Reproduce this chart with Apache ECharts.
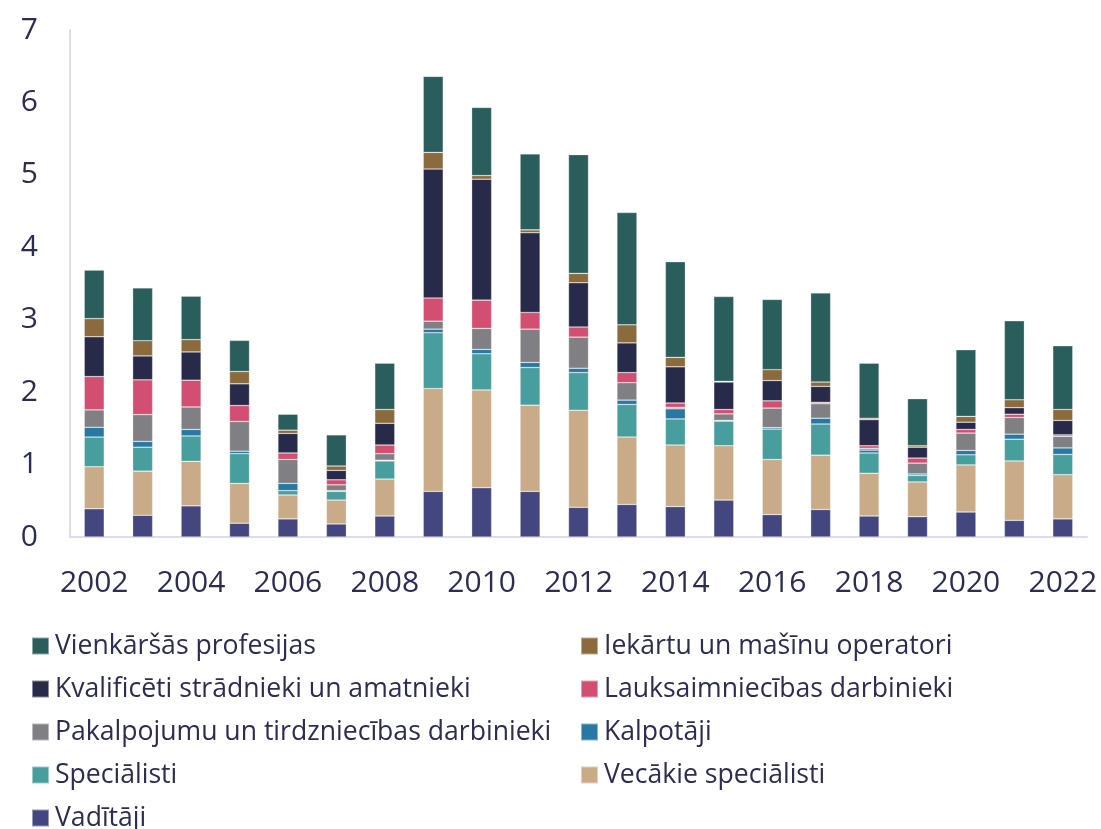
<!DOCTYPE html>
<html>
<head>
<meta charset="utf-8">
<title>Profesiju grupas</title>
<script src="https://cdn.jsdelivr.net/npm/echarts@6/dist/echarts.min.js"></script>
<style>
  html, body { margin: 0; padding: 0; background: #fff; }
  #chart { width: 1101px; height: 829px; }
</style>
</head>
<body>
<div id="chart"></div>
<script>
  // categories
  var years = ['2002', '2003', '2004', '2005', '2006', '2007', '2008', '2009', '2010', '2011', '2012',
    '2013', '2014', '2015', '2016', '2017', '2018', '2019', '2020', '2021', '2022']
  var yTicks = [0, 1, 2, 3, 4, 5, 6, 7]

  // series values, bottom to top of each stack
  var vaditaji = [0.39, 0.30, 0.43, 0.19, 0.25, 0.18, 0.29, 0.63, 0.68, 0.63, 0.41, 0.45, 0.42, 0.51, 0.31, 0.38, 0.29, 0.28, 0.345, 0.23, 0.25]
  var vecakieSpecialisti = [0.58, 0.61, 0.615, 0.55, 0.33, 0.33, 0.51, 1.42, 1.35, 1.19, 1.34, 0.93, 0.85, 0.75, 0.76, 0.75, 0.59, 0.48, 0.65, 0.82, 0.61]
  var specialisti = [0.41, 0.33, 0.35, 0.41, 0.06, 0.12, 0.25, 0.77, 0.50, 0.52, 0.52, 0.45, 0.36, 0.34, 0.42, 0.43, 0.28, 0.09, 0.14, 0.30, 0.28]
  var kalpotaji = [0.135, 0.08, 0.09, 0.035, 0.10, 0.01, 0.01, 0.05, 0.06, 0.07, 0.06, 0.06, 0.14, 0.01, 0.02, 0.08, 0.04, 0.02, 0.06, 0.07, 0.09]
  var pakalpojumu = [0.24, 0.37, 0.31, 0.41, 0.33, 0.08, 0.09, 0.11, 0.29, 0.46, 0.43, 0.24, 0.02, 0.09, 0.27, 0.20, 0.025, 0.15, 0.24, 0.23, 0.16]
  var lauksaimniecibas = [0.46, 0.48, 0.37, 0.22, 0.09, 0.07, 0.12, 0.32, 0.39, 0.23, 0.14, 0.14, 0.06, 0.06, 0.10, 0.02, 0.035, 0.07, 0.05, 0.045, 0.02]
  var kvalificeti = [0.55, 0.33, 0.39, 0.30, 0.27, 0.13, 0.30, 1.78, 1.67, 1.10, 0.61, 0.41, 0.50, 0.38, 0.28, 0.22, 0.36, 0.15, 0.10, 0.09, 0.20]
  var iekartu = [0.25, 0.21, 0.17, 0.17, 0.045, 0.06, 0.19, 0.23, 0.05, 0.04, 0.13, 0.25, 0.13, 0.01, 0.15, 0.06, 0.02, 0.02, 0.08, 0.11, 0.15]
  var vienkarsas = [0.67, 0.73, 0.60, 0.43, 0.22, 0.43, 0.64, 1.05, 0.94, 1.05, 1.64, 1.55, 1.32, 1.17, 0.97, 1.23, 0.76, 0.65, 0.92, 1.09, 0.88]

  var textColor = '#2b2d52'
  var axisColor = '#dcdcee'
  var fontFamily = '"Open Sans", "Noto Sans", sans-serif'

  var seriesDefs = [
    { name: 'Vadītāji', data: vaditaji, color: '#444680' },
    { name: 'Vecākie speciālisti', data: vecakieSpecialisti, color: '#c9ab87' },
    { name: 'Speciālisti', data: specialisti, color: '#489e9d' },
    { name: 'Kalpotāji', data: kalpotaji, color: '#2878a4' },
    { name: 'Pakalpojumu un tirdzniecības darbinieki', data: pakalpojumu, color: '#808084' },
    { name: 'Lauksaimniecības darbinieki', data: lauksaimniecibas, color: '#d34f72' },
    { name: 'Kvalificēti strādnieki un amatnieki', data: kvalificeti, color: '#282a4a' },
    { name: 'Iekārtu un mašīnu operatori', data: iekartu, color: '#8b6a3e' },
    { name: 'Vienkāršās profesijas', data: vienkarsas, color: '#2a5e5c' }
  ]

  var legendBase = {
    orient: 'vertical',
    top: 631,
    height: 260,
    padding: 0,
    icon: 'rect',
    itemWidth: 17,
    itemHeight: 17,
    itemGap: 13,
    textStyle: {
      fontFamily: fontFamily,
      fontSize: 26.6,
      lineHeight: 30,
      color: textColor,
      padding: [0, 0, 0, 1]
    }
  }

  var chart = echarts.init(document.getElementById('chart'))

  chart.setOption({
    backgroundColor: '#ffffff',
    animation: false,
    textStyle: { fontFamily: fontFamily },
    grid: {
      left: 70,
      right: 14,
      top: 30,
      bottom: 292,
      containLabel: false
    },
    legend: [
      Object.assign({}, legendBase, {
        left: 31,
        data: ['Vienkāršās profesijas', 'Kvalificēti strādnieki un amatnieki',
          'Pakalpojumu un tirdzniecības darbinieki', 'Speciālisti', 'Vadītāji']
      }),
      Object.assign({}, legendBase, {
        left: 580,
        data: ['Iekārtu un mašīnu operatori', 'Lauksaimniecības darbinieki',
          'Kalpotāji', 'Vecākie speciālisti']
      })
    ],
    xAxis: {
      type: 'category',
      data: years,
      axisLine: { lineStyle: { color: axisColor, width: 2 } },
      axisTick: { show: false },
      axisLabel: {
        interval: 1,
        margin: 31,
        fontSize: 30,
        color: textColor,
        fontFamily: fontFamily
      }
    },
    yAxis: {
      type: 'value',
      min: yTicks[0],
      max: yTicks[yTicks.length - 1],
      interval: 1,
      axisLine: { show: true, lineStyle: { color: axisColor, width: 2 } },
      axisTick: { show: false },
      splitLine: { show: false },
      axisLabel: {
        margin: 32,
        fontSize: 30,
        color: textColor,
        fontFamily: fontFamily
      }
    },
    series: seriesDefs.map(function (s) {
      return {
        name: s.name,
        type: 'bar',
        stack: 'total',
        barWidth: 20,
        data: s.data,
        itemStyle: {
          color: s.color,
          borderColor: 'rgba(255,255,255,0.45)',
          borderWidth: 0.6
        }
      }
    })
  })
</script>
</body>
</html>
